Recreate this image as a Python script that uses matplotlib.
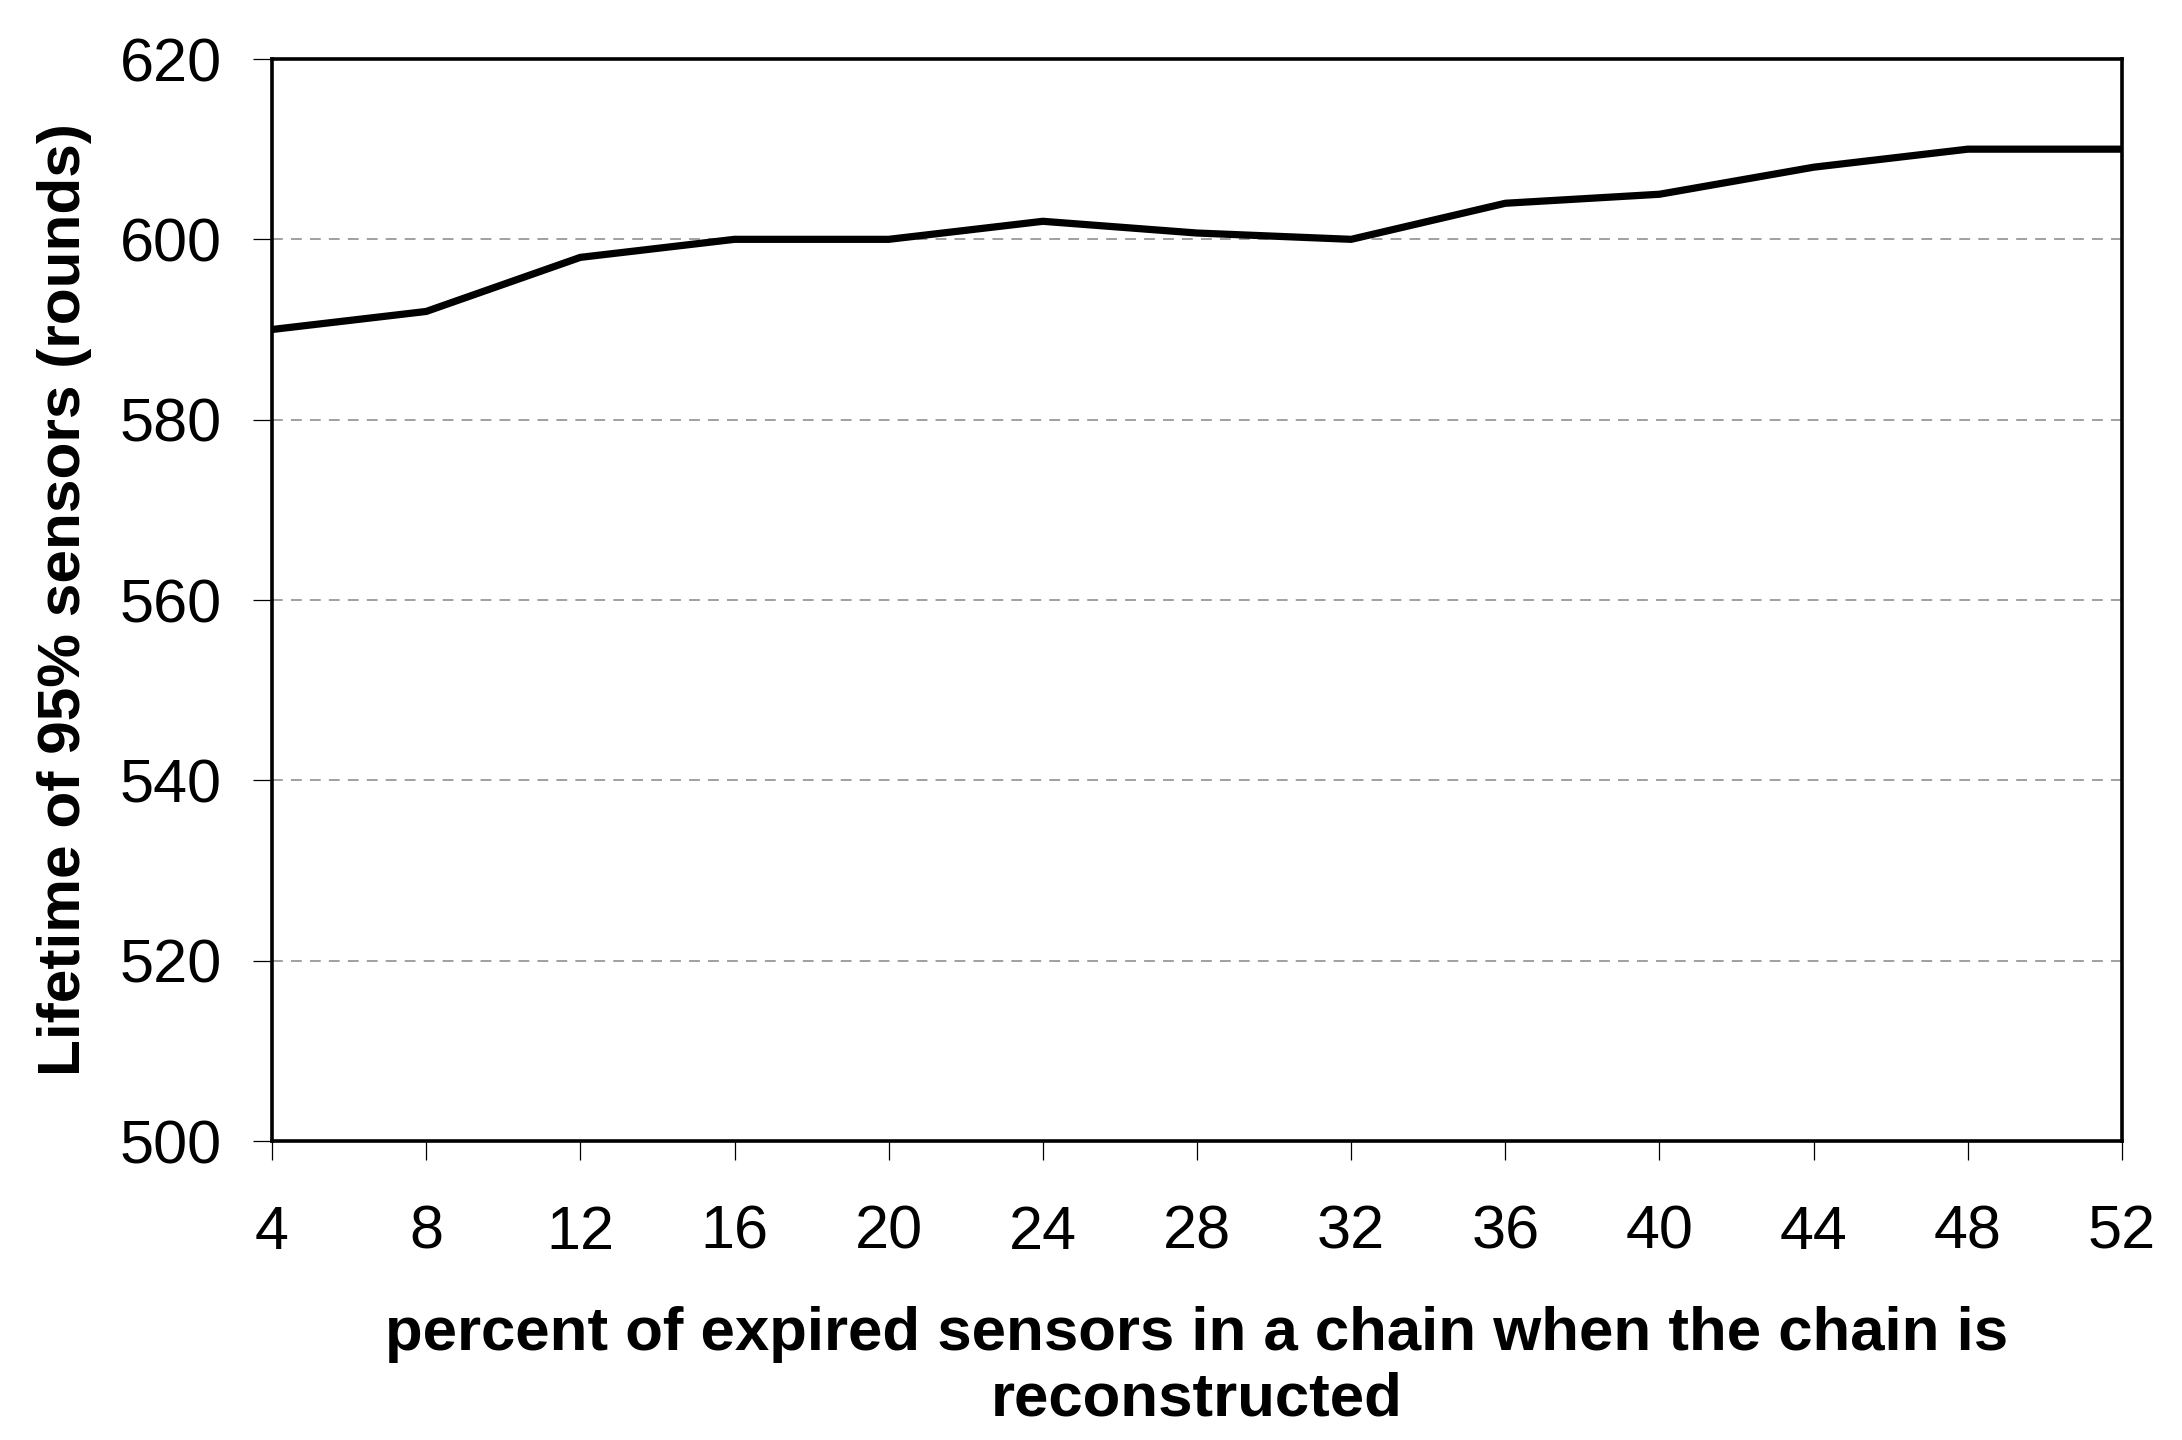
import matplotlib
matplotlib.use("Agg")
import matplotlib.pyplot as plt

x_values = [4, 8, 12, 16, 20, 24, 28, 32, 36, 40, 44, 48, 52]
lifetime = [590, 592, 598, 600, 600, 602, 600.7, 600, 604, 605, 608, 610, 610]
x_ticks = [4, 8, 12, 16, 20, 24, 28, 32, 36, 40, 44, 48, 52]
y_ticks = [500, 520, 540, 560, 580, 600, 620]

plt.rcParams['font.family'] = ['Liberation Sans', 'DejaVu Sans']

fig = plt.figure(figsize=(21.82, 14.40), dpi=100)
ax = fig.add_axes([272/2182, 1 - 1141/1440, (2122-272)/2182, (1141-59)/1440])

ax.plot(x_values, lifetime, color='black', linewidth=5.2, solid_joinstyle='round',
        solid_capstyle='butt', zorder=3, clip_on=False)

ax.set_xlim(4, 52)
ax.set_ylim(500, 620)
ax.set_xticks(x_ticks)
ax.set_yticks(y_ticks)

for yv in y_ticks[1:-1]:
    ax.axhline(yv, color='#999999', linewidth=1.3, dashes=(6, 4.5), zorder=1)

for s in ax.spines.values():
    s.set_linewidth(2.6)
    s.set_color('black')

ax.tick_params(axis='both', direction='out', length=14, width=0.9, colors='black',
               labelsize=44)
ax.tick_params(axis='x', pad=32)
ax.tick_params(axis='y', pad=22)

ax.set_ylabel('Lifetime of 95% sensors (rounds)', fontsize=43.5, fontweight='bold', labelpad=20)
ax.set_xlabel('percent of expired sensors in a chain when the chain is\nreconstructed',
              fontsize=44.5, fontweight='bold', labelpad=32, linespacing=1.18)

fig.savefig('out.png', dpi=100, facecolor='white')
